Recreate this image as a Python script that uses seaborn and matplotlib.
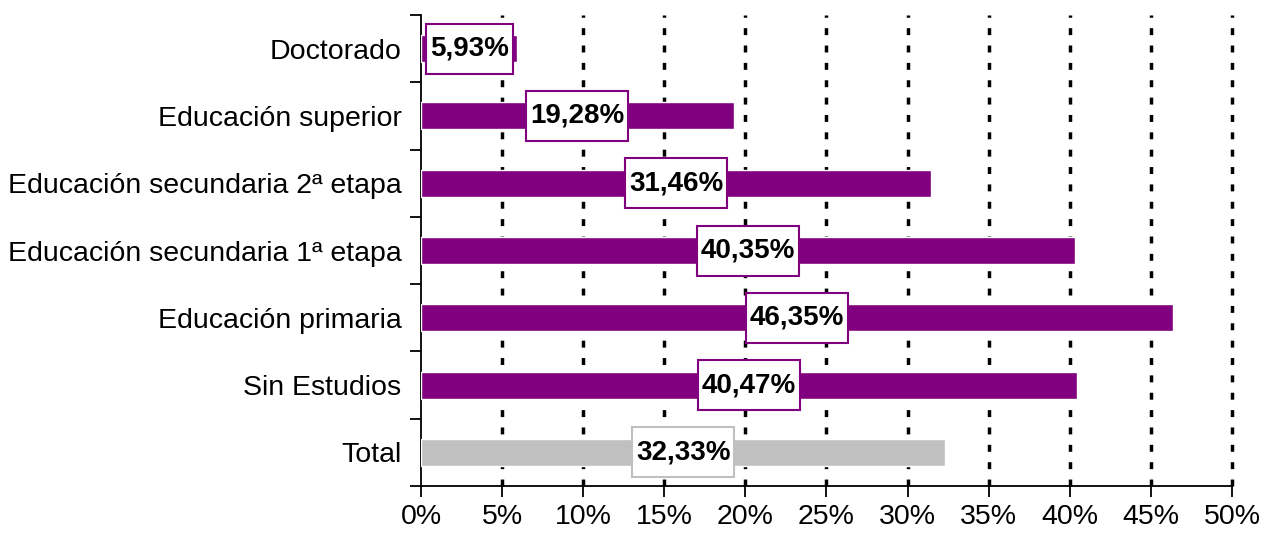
import pandas as pd
import seaborn as sns
import matplotlib.pyplot as plt
from matplotlib.patches import Rectangle
import numpy as np

# Datos
categorias = ['Doctorado', 'Educación superior', 'Educación secundaria 2ª etapa',
              'Educación secundaria 1ª etapa', 'Educación primaria', 'Sin Estudios', 'Total']
valores = [5.93, 19.28, 31.46, 40.35, 46.35, 40.47, 32.33]
colores = ['#800080'] * 6 + ['#C0C0C0']
ticks_x = [0, 5, 10, 15, 20, 25, 30, 35, 40, 45, 50]

df = pd.DataFrame({'cat': categorias, 'val': valores})

sns.set_style('white')
plt.rcParams['font.family'] = ['Liberation Sans', 'DejaVu Sans']
plt.rcParams['text.color'] = 'black'
plt.rcParams['xtick.color'] = 'black'
plt.rcParams['ytick.color'] = 'black'

fig = plt.figure(figsize=(12.62, 5.37), dpi=100)
ax = fig.add_axes([0.3336, 0.095, 0.6426, 0.877])

sns.barplot(data=df, x='val', y='cat', hue='cat', palette=colores, legend=False,
            width=0.4, ax=ax, saturation=1, orient='h', zorder=3)

# Rejilla punteada
for t in ticks_x[1:]:
    ax.axvline(t, color='black', linestyle=(0, (2, 3)), linewidth=2.5, zorder=1, clip_on=False)

ax.set_xlim(0, 50)
ax.set_ylim(6.5, -0.5)
ax.set_xticks(ticks_x)
ax.set_xticklabels([f'{t}%' for t in ticks_x])
ax.set_yticks(range(len(categorias)))
ax.set_yticks(np.arange(-0.5, 7, 1), minor=True)
ax.tick_params(axis='y', which='major', length=0, pad=14, labelsize=20.5, labelcolor='black')
ax.tick_params(axis='y', which='minor', length=8, width=1.3, left=True, color='black')
ax.tick_params(axis='x', which='major', length=8, width=1.3, bottom=True, color='black',
               labelsize=20.5, pad=5, labelcolor='black')
ax.set_xlabel('')
ax.set_ylabel('')
for s in ['top', 'right']:
    ax.spines[s].set_visible(False)
for s in ['left', 'bottom']:
    ax.spines[s].set_color('black')
    ax.spines[s].set_linewidth(1.3)

# Etiquetas con recuadro (más relleno vertical que horizontal)
textos = []
for i, v in enumerate(valores):
    t = ax.text(v / 2, i, f'{v:.2f}%'.replace('.', ','), ha='center', va='center',
                fontsize=20, fontweight='bold', color='black', zorder=6)
    textos.append(t)

fig.canvas.draw()
inv = ax.transData.inverted()
for t, c in zip(textos, colores):
    bb = t.get_window_extent()
    x0, y0 = inv.transform((bb.x0 - 4, bb.y0 - 12))
    x1, y1 = inv.transform((bb.x1 + 4, bb.y1 + 12))
    ax.add_patch(Rectangle((x0, y0), x1 - x0, y1 - y0, facecolor='white',
                           edgecolor=c, linewidth=1.5, zorder=5))

plt.savefig('out.png', dpi=100)
